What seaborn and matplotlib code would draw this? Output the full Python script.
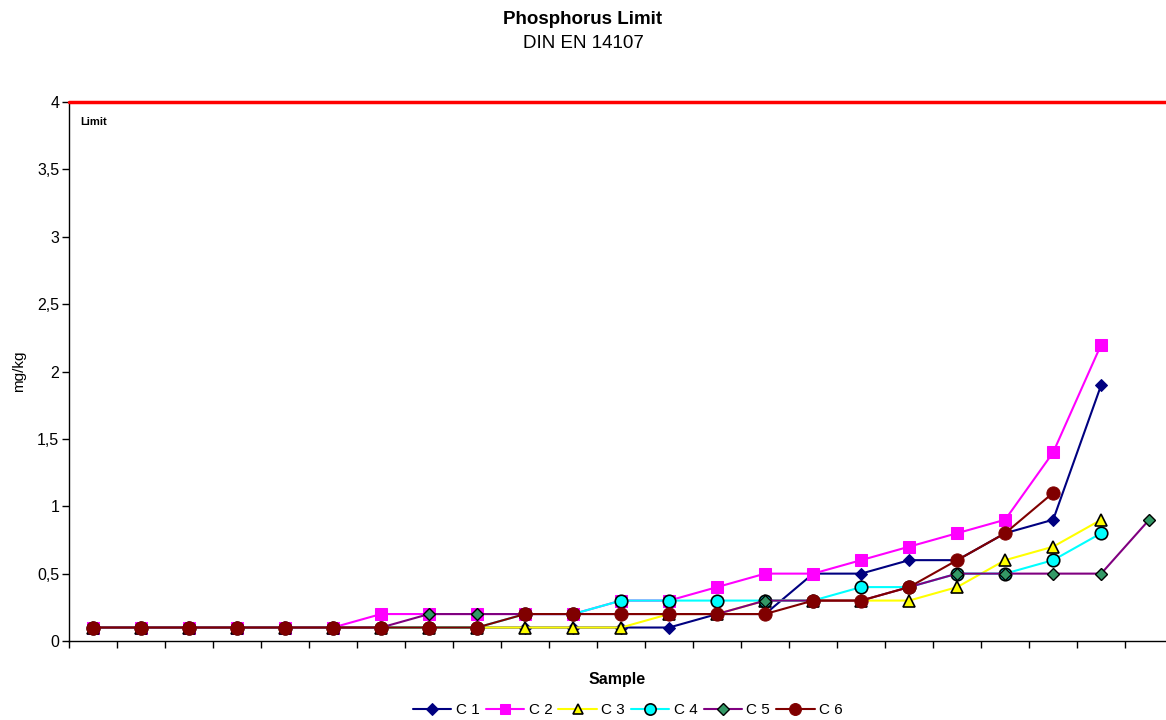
import matplotlib
matplotlib.use("Agg")
import matplotlib.pyplot as plt
import seaborn as sns
import numpy as np
import pandas as pd

sns.set_style("white")
plt.rcParams['font.family'] = ['Liberation Sans', 'DejaVu Sans']
plt.rcParams['text.color'] = 'black'
plt.rcParams['axes.labelcolor'] = 'black'
plt.rcParams['xtick.color'] = 'black'
plt.rcParams['ytick.color'] = 'black'

samples = list(range(23))
c1 = [0.1, 0.1, 0.1, 0.1, 0.1, 0.1, 0.1, 0.1, 0.1, 0.1, 0.1, 0.1, 0.1, 0.2, 0.2, 0.5, 0.5, 0.6, 0.6, 0.8, 0.9, 1.9]
c2 = [0.1, 0.1, 0.1, 0.1, 0.1, 0.1, 0.2, 0.2, 0.2, 0.2, 0.2, 0.3, 0.3, 0.4, 0.5, 0.5, 0.6, 0.7, 0.8, 0.9, 1.4, 2.2]
c3 = [0.1, 0.1, 0.1, 0.1, 0.1, 0.1, 0.1, 0.1, 0.1, 0.1, 0.1, 0.1, 0.2, 0.2, 0.3, 0.3, 0.3, 0.3, 0.4, 0.6, 0.7, 0.9]
c4 = [0.1, 0.1, 0.1, 0.1, 0.1, 0.1, 0.1, 0.1, 0.1, 0.2, 0.2, 0.3, 0.3, 0.3, 0.3, 0.3, 0.4, 0.4, 0.5, 0.5, 0.6, 0.8]
c5 = [0.1, 0.1, 0.1, 0.1, 0.1, 0.1, 0.1, 0.2, 0.2, 0.2, 0.2, 0.2, 0.2, 0.2, 0.3, 0.3, 0.3, 0.4, 0.5, 0.5, 0.5, 0.5, 0.9]
c6 = [0.1, 0.1, 0.1, 0.1, 0.1, 0.1, 0.1, 0.1, 0.1, 0.2, 0.2, 0.2, 0.2, 0.2, 0.2, 0.3, 0.3, 0.4, 0.6, 0.8, 1.1]
limit_value = 4.0
y_ticks = [0, 0.5, 1, 1.5, 2, 2.5, 3, 3.5, 4]
y_tick_labels = ["0", "0,5", "1", "1,5", "2", "2,5", "3", "3,5", "4"]

series = [
    ("C 1", c1, dict(color="#000080", marker="D", markersize=6.5, markerfacecolor="#000080", markeredgecolor="#000080")),
    ("C 2", c2, dict(color="#FF00FF", marker="s", markersize=8, markerfacecolor="#FF00FF", markeredgecolor="#FF00FF")),
    ("C 3", c3, dict(color="#FFFF00", marker="^", markersize=8.5, markerfacecolor="#FFFF00", markeredgecolor="#000000", markeredgewidth=1.2)),
    ("C 4", c4, dict(color="#00FFFF", marker="o", markersize=9, markerfacecolor="#00FFFF", markeredgecolor="#000000", markeredgewidth=1.2)),
    ("C 5", c5, dict(color="#800080", marker="D", markersize=6.5, markerfacecolor="#339966", markeredgecolor="#000000", markeredgewidth=1.0)),
    ("C 6", c6, dict(color="#800000", marker="o", markersize=9.5, markerfacecolor="#800000", markeredgecolor="#800000")),
]

fig = plt.figure(figsize=(11.66, 7.2), dpi=100)
ax = fig.add_axes([69 / 1166, 79 / 720, 1 - 69 / 1166, (641 - 102) / 720])

for name, vals, style in series:
    sns.lineplot(x=samples[:len(vals)], y=vals, ax=ax, label=name, linewidth=1.5, **style)

ax.axhline(limit_value, color="#FF0000", linewidth=2.5, zorder=5, clip_on=False)
ax.text(80 / 1166, 1 - 122 / 720, "Limit", transform=fig.transFigure, fontsize=8, fontweight="bold", va="center", ha="left")

ax.set_ylim(0, 4)
ax.set_xlim(-0.5, 22.35)
ax.set_yticks(y_ticks)
ax.set_yticklabels(y_tick_labels, fontsize=11.5)
ax.set_xticks(np.arange(-0.5, 22.5, 1.0))
ax.set_xticklabels([])
ax.tick_params(axis="both", direction="out", length=5, width=1, color="black", left=True, bottom=True)
ax.tick_params(axis="y", pad=2)
for s in ["top", "right"]:
    ax.spines[s].set_visible(False)
for s in ["left", "bottom"]:
    ax.spines[s].set_color("black")
    ax.spines[s].set_linewidth(1)

ax.set_xlabel("Sample", fontsize=11.5, fontweight="bold", labelpad=14)
ax.set_ylabel("mg/kg", fontsize=11, labelpad=8)

fig.text(0.5, 1 - 19 / 720, "Phosphorus Limit", ha="center", va="center", fontsize=13.5, fontweight="bold")
fig.text(0.5, 1 - 44 / 720, "DIN EN 14107", ha="center", va="center", fontsize=13.5)

ax.get_legend().remove()
handles, labels = ax.get_legend_handles_labels()
fig.legend(handles, labels, loc="center", bbox_to_anchor=(628 / 1166, 1 - 710 / 720), ncol=6, frameon=False,
           fontsize=11, handlelength=2.5, handletextpad=0.3, columnspacing=0.4, markerscale=0.9)

fig.savefig("out.png", dpi=100, facecolor="white")
